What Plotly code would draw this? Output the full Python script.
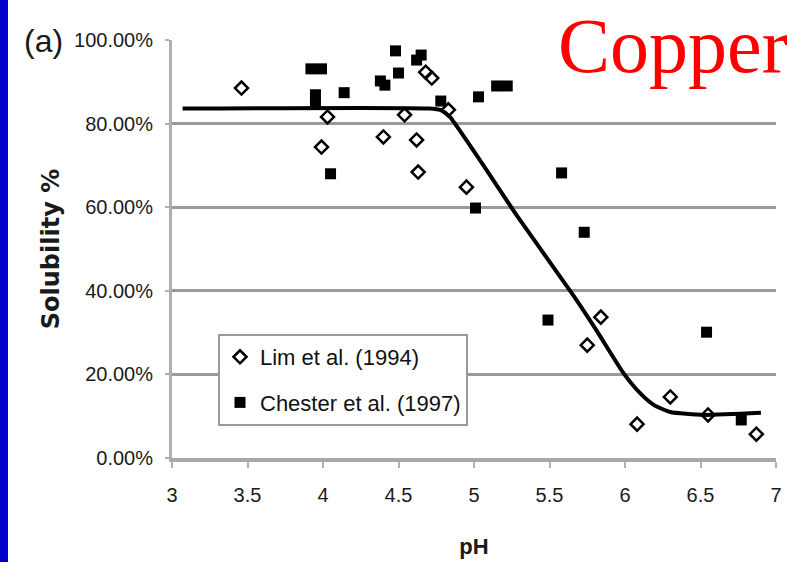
import plotly.graph_objects as go

# ---------------- data ----------------
lim_ph = [3.46, 3.99, 4.03, 4.40, 4.54, 4.62, 4.63, 4.68, 4.72, 4.83, 4.95,
          5.75, 5.84, 6.08, 6.30, 6.55, 6.87]
lim_sol = [88.5, 74.4, 81.6, 76.8, 82.1, 76.1, 68.4, 92.3, 90.9, 83.3, 64.8,
           27.0, 33.7, 8.1, 14.6, 10.3, 5.7]

chester_ph = [3.92, 3.99, 3.95, 3.95, 4.05, 4.14, 4.38, 4.41, 4.48, 4.50, 4.62,
              4.65, 4.78, 5.01, 5.03, 5.15, 5.22, 5.49, 5.58, 5.73, 6.54, 6.77]
chester_sol = [93.1, 93.1, 86.9, 84.9, 68.0, 87.4, 90.2, 89.2, 97.4, 92.1, 95.2,
               96.4, 85.4, 59.8, 86.4, 89.0, 89.0, 33.0, 68.2, 54.0, 30.1, 9.1]

fit_ph = [3.07, 4.70, 4.78, 4.84, 5.29, 5.66, 5.81, 5.99, 6.10, 6.19, 6.30, 6.52, 6.90]
fit_sol = [83.6, 83.6, 83.2, 81.6, 57.7, 38.8, 30.6, 20.3, 15.5, 12.7, 11.0, 10.3, 10.8]

x_ticks = [3, 3.5, 4, 4.5, 5, 5.5, 6, 6.5, 7]
x_tick_labels = ["3", "3.5", "4", "4.5", "5", "5.5", "6", "6.5", "7"]
y_ticks = [0, 20, 40, 60, 80, 100]
y_tick_labels = ["0.00%", "20.00%", "40.00%", "60.00%", "80.00%", "100.00%"]

series_names = ["Lim et al. (1994)", "Chester et al. (1997)"]

# ---------------- figure ----------------
W, H = 808, 562
ML, MR, MT, MB = 172, 32, 40, 104
PW, PH = W - ML - MR, H - MT - MB

def px_x(p):
    return (p - ML) / PW

def px_y(p):
    return (H - MB - p) / PH

fig = go.Figure()

fig.add_trace(go.Scatter(
    x=fit_ph, y=fit_sol, mode="lines",
    line=dict(color="black", width=4, shape="spline", smoothing=0.5),
    showlegend=False, hoverinfo="skip"))

fig.add_trace(go.Scatter(
    x=lim_ph, y=lim_sol, mode="markers", name=series_names[0],
    legendgroup="a",
    marker=dict(symbol="diamond-open", size=10, color="black",
                line=dict(color="black", width=2.5))))

fig.add_trace(go.Scatter(
    x=chester_ph, y=chester_sol, mode="markers", name=series_names[1],
    legendgroup="b",
    marker=dict(symbol="square", size=11, color="black",
                line=dict(color="black", width=0))))

font_main = "Liberation Sans, Arial, sans-serif"

fig.update_layout(
    width=W, height=H,
    margin=dict(l=ML, r=MR, t=MT, b=MB, pad=0, autoexpand=False),
    paper_bgcolor="white", plot_bgcolor="white",
    font=dict(family=font_main, color="#222222"),
    showlegend=True,
    legend=dict(
        x=px_x(218), y=px_y(334), xanchor="left", yanchor="top",
        bgcolor="white", bordercolor="#9a9a9a", borderwidth=2,
        font=dict(family=font_main, size=22, color="#111111"),
        traceorder="grouped", tracegroupgap=14, itemwidth=30),
    xaxis=dict(
        range=[3, 7], tickvals=x_ticks, ticktext=x_tick_labels,
        automargin=False,
        showgrid=False, zeroline=False,
        showline=True, linecolor="#a8a8a8", linewidth=4,
        ticks="outside", ticklen=6, tickwidth=2, tickcolor="#b0b0b0",
        tickfont=dict(family=font_main, size=20, color="#1a1a1a"),
        ticklabelstandoff=10,
        title=dict(text="pH", standoff=35,
                   font=dict(family=font_main, size=22, color="#1a1a1a", weight="bold"))),
    yaxis=dict(
        range=[0, 100], tickvals=y_ticks, ticktext=y_tick_labels,
        automargin=False,
        showgrid=True, gridcolor="#9a9a9a", gridwidth=3,
        zeroline=False,
        showline=True, linecolor="#b0b0b0", linewidth=3,
        ticks="outside", ticklen=4, tickwidth=2, tickcolor="#b0b0b0",
        tickfont=dict(family=font_main, size=20, color="#1a1a1a"),
        ticklabelstandoff=8,
        title=dict(text="Solubility %", standoff=8,
                   font=dict(family="DejaVu Sans, sans-serif", size=24,
                             color="#1a1a1a", weight="bold"))),
)

# blue strip on the left edge of the slide
fig.add_shape(type="rect", xref="paper", yref="paper",
              x0=px_x(0), x1=px_x(8), y0=px_y(H), y1=px_y(0),
              fillcolor="#0000CC", line=dict(width=0), layer="above")

fig.add_annotation(text="(a)", xref="paper", yref="paper",
                   x=px_x(43), y=px_y(41), xanchor="center", yanchor="middle",
                   showarrow=False,
                   font=dict(family=font_main, size=32, color="#1a1a1a"))

fig.add_annotation(text="Copper", xref="paper", yref="paper",
                   x=px_x(790), y=px_y(45), xanchor="right", yanchor="middle",
                   showarrow=False,
                   font=dict(family="Liberation Serif, Times New Roman, serif",
                             size=78, color="#FF0000"))

fig.write_html("out.html")
